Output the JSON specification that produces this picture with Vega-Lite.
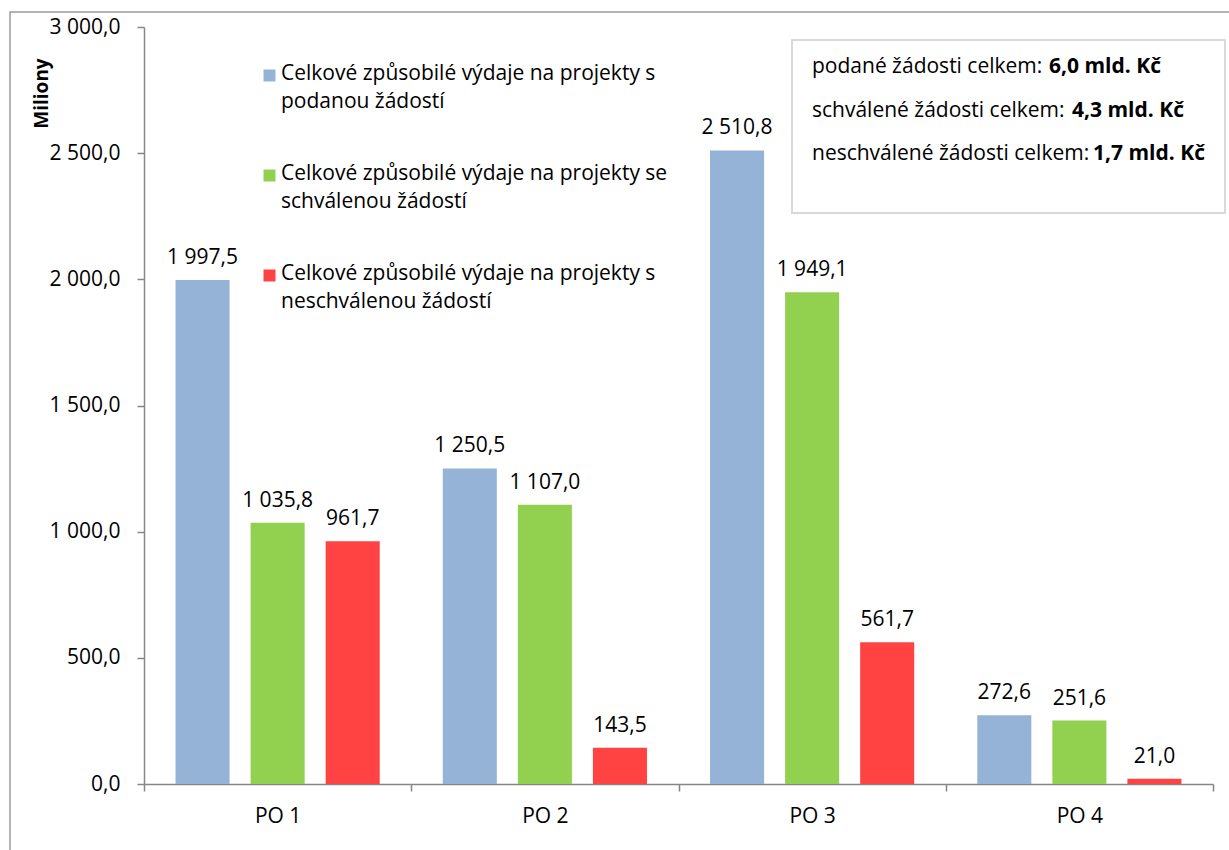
{
  "$schema": "https://vega.github.io/schema/vega-lite/v6.json",
  "width": 1069,
  "height": 757,
  "autosize": "none",
  "padding": {"left": 144, "top": 27, "right": 16, "bottom": 66},
  "background": "white",
  "config": {
    "locale": {"number": {"decimal": ",", "thousands": " ", "grouping": [3], "currency": ["", ""]}},
    "font": "Open Sans",
    "view": {"stroke": null},
    "axis": {"grid": false, "domainColor": "#868686", "domainWidth": 1.5, "tickColor": "#868686", "tickWidth": 1.5, "tickSize": 7, "labelColor": "#000000", "labelFont": "Open Sans", "labelFontSize": 21}
  },
  "datasets": {
    "bars": [
      {"po": "PO 1", "series": "Celkové způsobilé výdaje na projekty s podanou žádostí", "value": 1997.5},
      {"po": "PO 1", "series": "Celkové způsobilé výdaje na projekty se schválenou žádostí", "value": 1035.8},
      {"po": "PO 1", "series": "Celkové způsobilé výdaje na projekty s neschválenou žádostí", "value": 961.7},
      {"po": "PO 2", "series": "Celkové způsobilé výdaje na projekty s podanou žádostí", "value": 1250.5},
      {"po": "PO 2", "series": "Celkové způsobilé výdaje na projekty se schválenou žádostí", "value": 1107.0},
      {"po": "PO 2", "series": "Celkové způsobilé výdaje na projekty s neschválenou žádostí", "value": 143.5},
      {"po": "PO 3", "series": "Celkové způsobilé výdaje na projekty s podanou žádostí", "value": 2510.8},
      {"po": "PO 3", "series": "Celkové způsobilé výdaje na projekty se schválenou žádostí", "value": 1949.1},
      {"po": "PO 3", "series": "Celkové způsobilé výdaje na projekty s neschválenou žádostí", "value": 561.7},
      {"po": "PO 4", "series": "Celkové způsobilé výdaje na projekty s podanou žádostí", "value": 272.6},
      {"po": "PO 4", "series": "Celkové způsobilé výdaje na projekty se schválenou žádostí", "value": 251.6},
      {"po": "PO 4", "series": "Celkové způsobilé výdaje na projekty s neschválenou žádostí", "value": 21.0}
    ]
  },
  "layer": [
    {
      "data": {"values": [{}]},
      "mark": {"type": "rect", "fill": null, "stroke": "#9a9a9a", "strokeWidth": 1.5, "clip": false},
      "encoding": {"x": {"value": -134}, "x2": {"value": 1100}, "y": {"value": -15}, "y2": {"value": 860}}
    },
    {
      "data": {"name": "bars"},
      "encoding": {
        "x": {"field": "po", "type": "nominal", "title": null, "scale": {"paddingInner": 0, "paddingOuter": 0},
          "axis": {"labelAngle": 0, "tickBand": "extent", "labelBaseline": "alphabetic", "labelPadding": 31}},
        "xOffset": {"field": "series", "type": "nominal",
          "sort": ["Celkové způsobilé výdaje na projekty s podanou žádostí", "Celkové způsobilé výdaje na projekty se schválenou žádostí", "Celkové způsobilé výdaje na projekty s neschválenou žádostí"],
          "scale": {"paddingInner": 0.28, "paddingOuter": 0.42}},
        "y": {"field": "value", "type": "quantitative", "scale": {"domain": [0, 3000]},
          "axis": {"values": [0, 500, 1000, 1500, 2000, 2500, 3000], "format": ",.1f", "labelPadding": 17,
            "title": "Miliony", "titleFont": "Open Sans", "titleFontSize": 19, "titleFontWeight": "bold", "titleColor": "#000000",
            "titleX": -97, "titleY": 66, "titleAngle": -90, "titleAlign": "center", "titleBaseline": "alphabetic"}}
      },
      "layer": [
        {
          "mark": {"type": "bar"},
          "encoding": {
            "color": {"field": "series", "type": "nominal",
              "scale": {"domain": ["Celkové způsobilé výdaje na projekty s podanou žádostí", "Celkové způsobilé výdaje na projekty se schválenou žádostí", "Celkové způsobilé výdaje na projekty s neschválenou žádostí"],
                "range": ["#95B3D7", "#92D050", "#FF4343"]},
              "legend": {
                "title": null, "orient": "none", "legendX": 115, "legendY": 38, "direction": "vertical",
                "symbolType": "square", "symbolSize": 144, "symbolStrokeWidth": 0, "symbolOpacity": 1,
                "labelFont": "Open Sans", "labelFontSize": 21, "labelColor": "#000000", "labelLimit": 700, "labelOffset": 1,
                "labelBaseline": "top", "rowPadding": 50, "padding": 0,
                "labelExpr": "datum.label == 'Celkové způsobilé výdaje na projekty s podanou žádostí' ? ['Celkové způsobilé výdaje na projekty s', 'podanou žádostí'] : datum.label == 'Celkové způsobilé výdaje na projekty se schválenou žádostí' ? ['Celkové způsobilé výdaje na projekty se', 'schválenou žádostí'] : ['Celkové způsobilé výdaje na projekty s', 'neschválenou žádostí']",
                "encode": {"labels": {"update": {"lineHeight": {"value": 28}, "dy": {"value": -13}}}}
              }}
          }
        },
        {
          "mark": {"type": "text", "baseline": "alphabetic", "dy": -16, "fontSize": 21, "color": "#000000"},
          "encoding": {
            "text": {"field": "value", "type": "quantitative", "format": ",.1f"}
          }
        }
      ]
    },
    {
      "data": {"values": [{}]},
      "mark": {"type": "rect", "fill": "white", "stroke": "#d9d9d9", "strokeWidth": 2, "clip": false},
      "encoding": {"x": {"value": 648}, "x2": {"value": 1081}, "y": {"value": 13}, "y2": {"value": 186}}
    },
    {
      "data": {"values": [{"t": ["podané žádosti celkem:", "schválené žádosti celkem:", "neschválené žádosti celkem:"]}]},
      "mark": {"type": "text", "align": "left", "baseline": "alphabetic", "fontSize": 21, "lineHeight": 43.5, "color": "#000000", "clip": false},
      "encoding": {"x": {"value": 668}, "y": {"value": 46}, "text": {"field": "t"}}
    },
    {
      "data": {"values": [{"t": "6,0 mld.  Kč"}]},
      "mark": {"type": "text", "align": "left", "baseline": "alphabetic", "fontSize": 21, "fontWeight": "bold", "color": "#000000", "clip": false},
      "encoding": {"x": {"value": 905}, "y": {"value": 46}, "text": {"field": "t"}}
    },
    {
      "data": {"values": [{"t": "4,3 mld. Kč"}]},
      "mark": {"type": "text", "align": "left", "baseline": "alphabetic", "fontSize": 21, "fontWeight": "bold", "color": "#000000", "clip": false},
      "encoding": {"x": {"value": 928}, "y": {"value": 89.5}, "text": {"field": "t"}}
    },
    {
      "data": {"values": [{"t": "1,7 mld. Kč"}]},
      "mark": {"type": "text", "align": "left", "baseline": "alphabetic", "fontSize": 21, "fontWeight": "bold", "color": "#000000", "clip": false},
      "encoding": {"x": {"value": 949}, "y": {"value": 133}, "text": {"field": "t"}}
    }
  ]
}
